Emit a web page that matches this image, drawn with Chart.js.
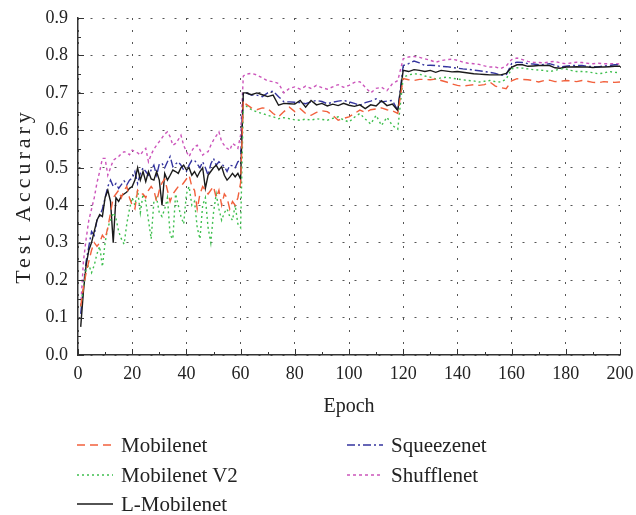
<!DOCTYPE html>
<html>
<head>
<meta charset="utf-8">
<script src="https://cdn.jsdelivr.net/npm/chart.js@4/dist/chart.umd.min.js"></script>
<style>
  html, body { margin: 0; padding: 0; background: #fff; }
  #wrap { position: relative; width: 636px; height: 515px; }
  #wrap canvas { position: absolute; left: 0; top: 0; }
  .lg-item {
    position: absolute; display: flex; align-items: center; white-space: nowrap;
    font-family: 'Liberation Serif', serif; font-size: 21px; color: #222;
  }
  .lg-item svg { margin-right: 8px; }
</style>
</head>
<body>
<div id="wrap">
  <canvas id="chart" width="636" height="515"></canvas>
  <div id="legend"></div>
</div>
<script>
'use strict';

// ── Data ───────────────────────────────────────────────────────
// epochs 1..61 every epoch, then every second epoch up to 200
const EPOCHS = [];
for (let e = 1; e <= 61; e++) EPOCHS.push(e);
for (let e = 62; e <= 200; e += 2) EPOCHS.push(e);

const Y_TICKS = [0, 0.1, 0.2, 0.3, 0.4, 0.5, 0.6, 0.7, 0.8, 0.9];
const X_TICKS = [0, 20, 40, 60, 80, 100, 120, 140, 160, 180, 200];

const MOBILENET = [
  0.13,0.18,0.22,0.25,0.28,0.30,0.29,0.30,0.32,0.31,
  0.34,0.38,0.42,0.43,0.44,0.42,0.44,0.45,0.42,0.40,
  0.39,0.44,0.43,0.43,0.42,0.44,0.45,0.44,0.41,0.44,
  0.46,0.47,0.44,0.41,0.43,0.44,0.45,0.45,0.46,0.47,
  0.48,0.45,0.44,0.39,0.43,0.45,0.44,0.43,0.44,0.45,
  0.42,0.44,0.40,0.43,0.42,0.39,0.41,0.40,0.42,0.46,
  0.68,
  0.67,0.66,0.655,0.66,0.658,0.645,0.636,0.65,0.662,0.65,
  0.658,0.645,0.64,0.648,0.652,0.65,0.64,0.627,0.632,0.636,
  0.645,0.654,0.648,0.655,0.657,0.66,0.655,0.652,0.645,
  0.738,0.735,0.733,0.736,0.736,0.735,0.737,0.733,0.729,0.724,
  0.72,0.718,0.72,0.722,0.72,0.722,0.729,0.718,0.714,0.711,
  0.732,
  0.738,0.736,0.735,0.733,0.729,0.733,0.734,0.73,0.731,0.733,
  0.732,0.73,0.733,0.731,0.728,0.727,0.73,0.729,0.728,0.729,
];

const MOBILENET_V2 = [
  0.13,0.18,0.23,0.24,0.22,0.24,0.27,0.29,0.236,0.30,
  0.34,0.36,0.38,0.365,0.33,0.31,0.296,0.35,0.39,0.42,
  0.40,0.44,0.38,0.43,0.41,0.36,0.31,0.41,0.42,0.38,
  0.37,0.39,0.42,0.32,0.31,0.43,0.40,0.37,0.35,0.43,
  0.45,0.40,0.41,0.34,0.31,0.40,0.42,0.34,0.30,0.38,
  0.43,0.39,0.36,0.38,0.39,0.37,0.36,0.40,0.35,0.34,
  0.665,
  0.665,0.655,0.649,0.645,0.64,0.636,0.631,0.634,0.631,0.628,
  0.627,0.63,0.627,0.631,0.629,0.627,0.632,0.636,0.628,0.622,
  0.635,0.645,0.63,0.617,0.64,0.613,0.635,0.613,0.603,
  0.742,0.748,0.751,0.75,0.745,0.742,0.737,0.74,0.742,0.739,
  0.737,0.735,0.733,0.732,0.729,0.731,0.733,0.73,0.729,0.737,
  0.764,
  0.767,0.766,0.764,0.762,0.761,0.76,0.757,0.76,0.764,0.764,
  0.76,0.757,0.757,0.756,0.754,0.751,0.753,0.757,0.755,0.754,
];

const L_MOBILENET = [
  0.075,0.17,0.24,0.28,0.30,0.33,0.36,0.375,0.37,0.42,
  0.44,0.41,0.30,0.42,0.41,0.425,0.43,0.435,0.445,0.45,
  0.467,0.50,0.467,0.49,0.463,0.49,0.47,0.467,0.49,0.467,
  0.40,0.485,0.467,0.48,0.494,0.49,0.485,0.50,0.507,0.494,
  0.50,0.48,0.49,0.476,0.49,0.50,0.445,0.48,0.49,0.50,
  0.507,0.494,0.503,0.48,0.467,0.475,0.485,0.476,0.485,0.47,
  0.70,
  0.70,0.695,0.70,0.695,0.69,0.694,0.667,0.672,0.671,0.67,
  0.68,0.662,0.68,0.668,0.672,0.665,0.67,0.666,0.672,0.667,
  0.664,0.668,0.658,0.668,0.665,0.679,0.666,0.67,0.653,
  0.76,0.757,0.762,0.76,0.757,0.76,0.755,0.76,0.758,0.756,
  0.757,0.755,0.753,0.751,0.75,0.749,0.748,0.748,0.748,0.752,
  0.768,
  0.775,0.775,0.771,0.772,0.773,0.773,0.773,0.767,0.766,0.769,
  0.769,0.77,0.769,0.769,0.768,0.769,0.769,0.77,0.771,0.771,
];

const SQUEEZENET = [
  0.11,0.18,0.25,0.29,0.33,0.32,0.36,0.37,0.39,0.42,
  0.45,0.467,0.45,0.458,0.445,0.455,0.465,0.454,0.467,0.472,
  0.49,0.458,0.485,0.50,0.49,0.48,0.494,0.507,0.48,0.51,
  0.512,0.50,0.516,0.53,0.503,0.51,0.516,0.507,0.494,0.49,
  0.507,0.52,0.52,0.51,0.50,0.516,0.50,0.48,0.51,0.525,
  0.507,0.516,0.51,0.503,0.49,0.507,0.505,0.50,0.516,0.52,
  0.70,
  0.70,0.694,0.694,0.69,0.70,0.705,0.69,0.676,0.676,0.675,
  0.674,0.671,0.676,0.68,0.677,0.671,0.675,0.678,0.68,0.676,
  0.672,0.667,0.674,0.678,0.684,0.676,0.678,0.68,0.653,
  0.773,0.778,0.785,0.78,0.773,0.774,0.773,0.771,0.77,0.768,
  0.766,0.764,0.763,0.761,0.759,0.757,0.755,0.752,0.747,0.748,
  0.778,
  0.782,0.781,0.778,0.777,0.775,0.776,0.778,0.774,0.769,0.771,
  0.773,0.773,0.773,0.771,0.77,0.769,0.772,0.773,0.775,0.775,
];

const SHUFFLENET = [
  0.13,0.25,0.31,0.36,0.39,0.42,0.46,0.49,0.525,0.525,
  0.48,0.50,0.52,0.525,0.53,0.538,0.543,0.54,0.535,0.547,
  0.543,0.54,0.534,0.545,0.552,0.516,0.535,0.55,0.56,0.57,
  0.58,0.59,0.596,0.583,0.56,0.565,0.575,0.587,0.56,0.543,
  0.53,0.545,0.556,0.56,0.548,0.534,0.54,0.543,0.56,0.574,
  0.585,0.596,0.57,0.56,0.552,0.547,0.565,0.56,0.552,0.587,
  0.745,
  0.75,0.752,0.748,0.74,0.732,0.73,0.725,0.70,0.712,0.716,
  0.71,0.718,0.712,0.72,0.714,0.71,0.716,0.722,0.715,0.72,
  0.728,0.73,0.715,0.70,0.712,0.715,0.706,0.724,0.733,
  0.791,0.796,0.797,0.795,0.791,0.787,0.782,0.786,0.789,0.79,
  0.787,0.782,0.779,0.778,0.776,0.772,0.769,0.769,0.765,0.772,
  0.789,
  0.793,0.789,0.784,0.782,0.781,0.78,0.783,0.784,0.78,0.778,
  0.78,0.782,0.781,0.779,0.778,0.779,0.778,0.778,0.778,0.777,
];

// ── Styles ─────────────────────────────────────────────────────
const FONT_FAMILY = "'Liberation Serif', 'Times New Roman', serif";
const TEXT_COLOR  = '#222';
const AXIS_COLOR  = '#333';
const Y_TITLE     = 'Test Accurary';

const SERIES = [
  { label: 'Mobilenet',    data: MOBILENET,    color: '#f2603c', dash: [8, 5],       col: 0, row: 0 },
  { label: 'Mobilenet V2', data: MOBILENET_V2, color: '#3fbf4f', dash: [2, 3],       col: 0, row: 1 },
  { label: 'L-Mobilenet',  data: L_MOBILENET,  color: '#1a1a1a', dash: [],           col: 0, row: 2 },
  { label: 'Squeezenet',   data: SQUEEZENET,   color: '#34349e', dash: [8, 3, 2, 3], col: 1, row: 0 },
  { label: 'Shufflenet',   data: SHUFFLENET,   color: '#cc55bb', dash: [3, 3],       col: 1, row: 1 },
];

// ── Inward tick marks (major + minor) and spaced y title ───────
const axisExtras = {
  id: 'axisExtras',
  afterDraw(chart) {
    const { ctx, chartArea: a, scales: { x, y } } = chart;
    ctx.save();
    ctx.strokeStyle = AXIS_COLOR;
    ctx.lineWidth = 1;
    ctx.beginPath();
    for (let v = 0; v <= 200; v += 10) {
      const px = Math.round(x.getPixelForValue(v)) + 0.5;
      const len = v % 20 === 0 ? 6 : 3;
      ctx.moveTo(px, a.bottom);
      ctx.lineTo(px, a.bottom - len);
    }
    for (let i = 0; i <= 18; i++) {
      const py = Math.round(y.getPixelForValue(i * 0.05)) + 0.5;
      const len = i % 2 === 0 ? 6 : 3;
      ctx.moveTo(a.left, py);
      ctx.lineTo(a.left + len, py);
    }
    ctx.stroke();

    // y title, letter-spaced like the original
    ctx.translate(24, 198);
    ctx.rotate(-Math.PI / 2);
    ctx.font = `22px ${FONT_FAMILY}`;
    ctx.fillStyle = TEXT_COLOR;
    ctx.textAlign = 'center';
    ctx.textBaseline = 'middle';
    if ('letterSpacing' in ctx) ctx.letterSpacing = '4px';
    ctx.fillText(Y_TITLE, 2, 0);
    ctx.restore();
  },
};

// ── Chart ──────────────────────────────────────────────────────
const tickFont  = { family: FONT_FAMILY, size: 18 };
const titleFont = { family: FONT_FAMILY, size: 20 };

new Chart(document.getElementById('chart'), {
  type: 'line',
  data: {
    datasets: SERIES.map(s => ({
      label: s.label,
      data: EPOCHS.map((e, i) => ({ x: e, y: s.data[i] })),
      borderColor: s.color,
      borderDash: s.dash,
      borderWidth: 1.4,
      pointRadius: 0,
      tension: 0,
      fill: false,
    })),
  },
  options: {
    responsive: false,
    animation: false,
    layout: { padding: { top: 18, right: 16, left: 0, bottom: 0 } },
    plugins: { legend: { display: false }, tooltip: { enabled: false } },
    scales: {
      x: {
        type: 'linear', min: 0, max: 200,
        afterBuildTicks: s => { s.ticks = X_TICKS.map(v => ({ value: v })); },
        ticks: { font: tickFont, color: TEXT_COLOR, padding: 8, maxRotation: 0 },
        grid: { color: '#555', lineWidth: 1, drawTicks: false },
        border: { display: true, color: AXIS_COLOR, width: 1.5, dash: [2, 10] },
        title: {
          display: true, text: 'Epoch', font: titleFont, color: TEXT_COLOR,
          padding: { top: 0, bottom: 96 },
        },
        afterFit: s => { s.height = 160; s.paddingLeft = 0; s.paddingRight = 0; },
      },
      y: {
        min: 0, max: 0.9,
        afterBuildTicks: s => { s.ticks = Y_TICKS.map(v => ({ value: v })); },
        ticks: { font: tickFont, color: TEXT_COLOR, padding: 10, callback: v => v.toFixed(1) },
        grid: { color: '#555', lineWidth: 1, drawTicks: false },
        border: { display: true, color: AXIS_COLOR, width: 1.5, dash: [2, 10] },
        title: { display: false },
        afterFit: s => { s.width = 78; s.paddingTop = 0; s.paddingBottom = 0; },
      },
    },
  },
  plugins: [axisExtras],
});

// ── Legend (two columns under the plot) ────────────────────────
const LEGEND_COL_X = [77, 347];
const LEGEND_ROW_Y = [445, 475, 504];

document.getElementById('legend').innerHTML = SERIES.map(s => `
  <div class="lg-item" style="left:${LEGEND_COL_X[s.col]}px;top:${LEGEND_ROW_Y[s.row] - 13}px;height:26px">
    <svg width="36" height="10"><line x1="0" y1="5" x2="36" y2="5" stroke="${s.color}"
      stroke-width="1.6" stroke-dasharray="${s.dash.join(' ')}"/></svg>
    <span>${s.label}</span>
  </div>`).join('');
</script>
</body>
</html>
